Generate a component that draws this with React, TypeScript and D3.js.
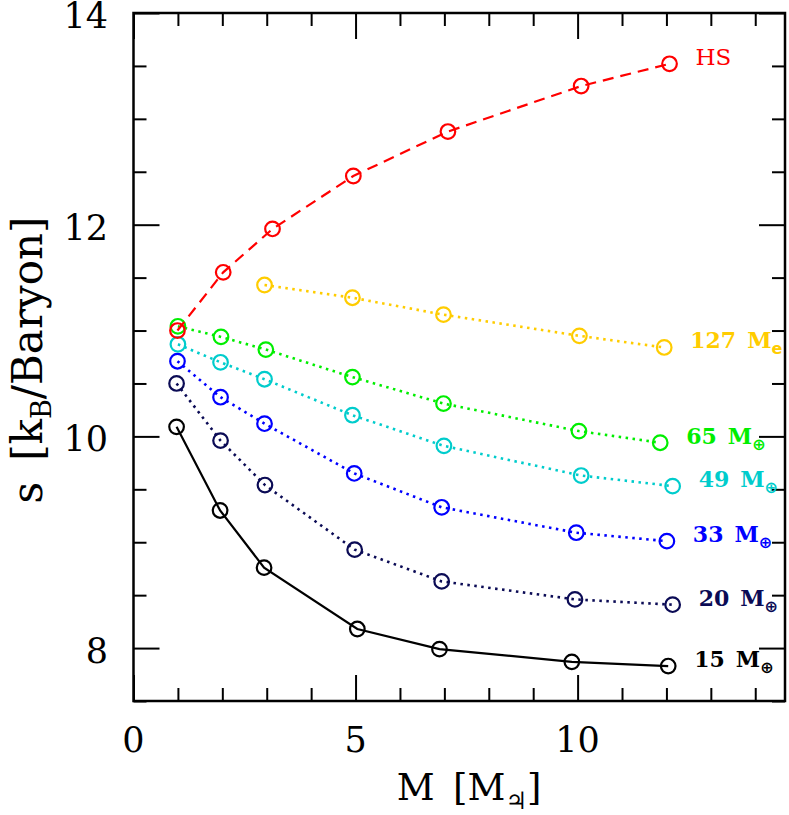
import React, { useRef, useEffect } from "react"
import * as d3 from "d3"

const width = 789
const height = 815
const margin = { top: 13, right: 4, bottom: 114, left: 133.5 }

// host mass [M_jup] and core entropy [k_B/baryon], one pair of arrays per curve
const massHS = [0.99, 2.02, 3.13, 4.95, 7.08, 10.08, 12.07]
const entropyHS = [11.0, 11.55, 11.96, 12.46, 12.88, 13.31, 13.52]

const mass127 = [2.95, 4.93, 6.98, 10.04, 11.95]
const entropy127 = [11.43, 11.31, 11.15, 10.95, 10.84]

const mass65 = [1.0, 1.97, 2.98, 4.93, 6.98, 10.03, 11.86]
const entropy65 = [11.04, 10.94, 10.82, 10.56, 10.31, 10.05, 9.94]

const mass49 = [1.0, 1.96, 2.95, 4.93, 6.99, 10.08, 12.14]
const entropy49 = [10.87, 10.7, 10.54, 10.2, 9.91, 9.63, 9.53]

const mass33 = [0.99, 1.96, 2.95, 4.97, 6.94, 9.97, 12.01]
const entropy33 = [10.71, 10.37, 10.12, 9.65, 9.33, 9.09, 9.01]

const mass20 = [0.97, 1.96, 2.96, 4.98, 6.94, 9.94, 12.14]
const entropy20 = [10.5, 9.96, 9.54, 8.93, 8.63, 8.46, 8.41]

const mass15 = [0.97, 1.95, 2.94, 5.04, 6.89, 9.87, 12.04]
const entropy15 = [10.09, 9.3, 8.76, 8.18, 7.99, 7.87, 7.83]

const xTicksMajor = [0, 5, 10]
const yTicksMajor = [8, 10, 12, 14]

interface ISeries {
  id: string
  mass: number[]
  entropy: number[]
  color: string
  dash: string | null
  label: string
  sub: string
}

const seriesList: ISeries[] = [
  { id: "m15", mass: mass15, entropy: entropy15, color: "#000000", dash: null, label: "15 M", sub: "\u2295" },
  { id: "m20", mass: mass20, entropy: entropy20, color: "#0b0b55", dash: "2.5,4.5", label: "20 M", sub: "\u2295" },
  { id: "m33", mass: mass33, entropy: entropy33, color: "#0000ff", dash: "2.5,4.5", label: "33 M", sub: "\u2295" },
  { id: "m49", mass: mass49, entropy: entropy49, color: "#00cccc", dash: "2.5,4.5", label: "49 M", sub: "\u2295" },
  { id: "m65", mass: mass65, entropy: entropy65, color: "#00ee00", dash: "2.5,4.5", label: "65 M", sub: "\u2295" },
  { id: "m127", mass: mass127, entropy: entropy127, color: "#ffcc00", dash: "2.5,4.5", label: "127 M", sub: "e" },
  { id: "hs", mass: massHS, entropy: entropyHS, color: "#ff0000", dash: "11,7", label: "HS", sub: "" },
]

const FONT = "'DejaVu Serif', serif"

const App: React.FC = () => {
  const svgRef = useRef<SVGSVGElement>(null)

  useEffect(() => {
    if (!svgRef.current) return
    const svg = d3.select(svgRef.current)
    svg.selectAll("*").remove()

    const x = d3.scaleLinear().domain([0, 14.67]).range([margin.left, width - margin.right])
    const y = d3.scaleLinear().domain([7.5, 14]).range([height - margin.bottom, margin.top])
    const x0 = margin.left, x1 = width - margin.right
    const y0 = height - margin.bottom, y1 = margin.top

    const xMinor = d3.range(1, 15).filter(d => d % 5 !== 0)
    const yMinor = d3.range(7.5, 14, 0.5).filter(d => d % 2 !== 0)

    // ticks, all pointing inwards, mirrored on the opposite side
    const ticks = svg.append("g").attr("stroke", "#000").attr("stroke-width", 2)
    const addAxis = (axis: d3.Axis<d3.NumberValue>, tx: number, ty: number) => {
      const g = ticks.append("g").attr("transform", `translate(${tx},${ty})`).call(axis)
      g.select(".domain").remove()
      g.selectAll("text").remove()
      g.selectAll("line").attr("stroke", "#000").attr("stroke-width", 2)
    }
    addAxis(d3.axisBottom(x).tickValues(xTicksMajor).tickSize(-26), 0, y0)
    addAxis(d3.axisBottom(x).tickValues(xMinor).tickSize(-13), 0, y0)
    addAxis(d3.axisTop(x).tickValues(xTicksMajor).tickSize(-26), 0, y1)
    addAxis(d3.axisTop(x).tickValues(xMinor).tickSize(-13), 0, y1)
    addAxis(d3.axisLeft(y).tickValues(yTicksMajor).tickSize(-26), x0, 0)
    addAxis(d3.axisLeft(y).tickValues(yMinor).tickSize(-13), x0, 0)
    addAxis(d3.axisRight(y).tickValues(yTicksMajor).tickSize(-26), x1, 0)
    addAxis(d3.axisRight(y).tickValues(yMinor).tickSize(-13), x1, 0)

    // frame
    svg.append("rect")
      .attr("x", x0).attr("y", y1)
      .attr("width", x1 - x0).attr("height", y0 - y1)
      .attr("fill", "none").attr("stroke", "#000").attr("stroke-width", 2.5)

    // tick labels
    svg.append("g").selectAll("text").data(xTicksMajor).enter().append("text")
      .attr("x", d => x(d)).attr("y", 752)
      .attr("text-anchor", "middle")
      .attr("font-family", FONT).attr("font-size", 35)
      .text(d => d)

    svg.append("g").selectAll("text").data(yTicksMajor).enter().append("text")
      .attr("x", 108).attr("y", d => y(d) + 15)
      .attr("text-anchor", "end")
      .attr("font-family", FONT).attr("font-size", 35)
      .text(d => d)

    // curves
    const line = d3.line<[number, number]>().x(d => x(d[0])).y(d => y(d[1]))
    seriesList.forEach(s => {
      const pts: [number, number][] = s.mass.map((m, i) => [m, s.entropy[i]])
      const g = svg.append("g").attr("id", `series-${s.id}`)
      g.append("path")
        .attr("d", line(pts))
        .attr("fill", "none")
        .attr("stroke", s.color)
        .attr("stroke-width", s.dash && s.id !== "hs" ? 2.6 : 2.2)
        .attr("stroke-dasharray", s.dash)
      g.selectAll("circle").data(pts).enter().append("circle")
        .attr("cx", d => x(d[0])).attr("cy", d => y(d[1]))
        .attr("r", 7.3)
        .attr("fill", "none")
        .attr("stroke", s.color)
        .attr("stroke-width", 2.2)

      const last = pts[pts.length - 1]
      const t = g.append("text")
        .attr("x", x(last[0]) + 26).attr("y", y(last[1]) + 1)
        .attr("font-family", FONT)
        .attr("font-size", s.id === "hs" ? 23 : 22)
        .attr("font-weight", s.id === "hs" ? "normal" : "bold")
        .attr("fill", s.color)
      t.append("tspan").text(s.label.replace(" ", "\u2002"))
      if (s.sub) {
        t.append("tspan").attr("dy", 6).attr("font-size", 16).attr("font-family", "'DejaVu Sans', sans-serif").text(s.sub)
      }
    })

    // axis titles
    const xt = svg.append("text")
      .attr("x", 469).attr("y", 800)
      .attr("text-anchor", "middle")
      .attr("font-family", FONT).attr("font-size", 37)
    xt.append("tspan").text("M\u2002[M")
    xt.append("tspan").attr("dy", 9).attr("font-size", 24).attr("font-family", "'DejaVu Sans', sans-serif").text("\u2643")
    xt.append("tspan").attr("dy", -9).text("]")

    const yt = svg.append("text")
      .attr("transform", "translate(42,360) rotate(-90)")
      .attr("text-anchor", "middle")
      .attr("font-family", FONT).attr("font-size", 42)
    yt.append("tspan").text("s\u2002[k")
    yt.append("tspan").attr("dy", 9).attr("font-size", 27).text("B")
    yt.append("tspan").attr("dy", -9).text("/Baryon]")
  }, [])

  return (
    <div style={{ position: "absolute", left: 0, top: 0 }}>
      <svg ref={svgRef} width={width} height={height} style={{ display: "block", background: "#fff" }} />
    </div>
  )
}

export default App
